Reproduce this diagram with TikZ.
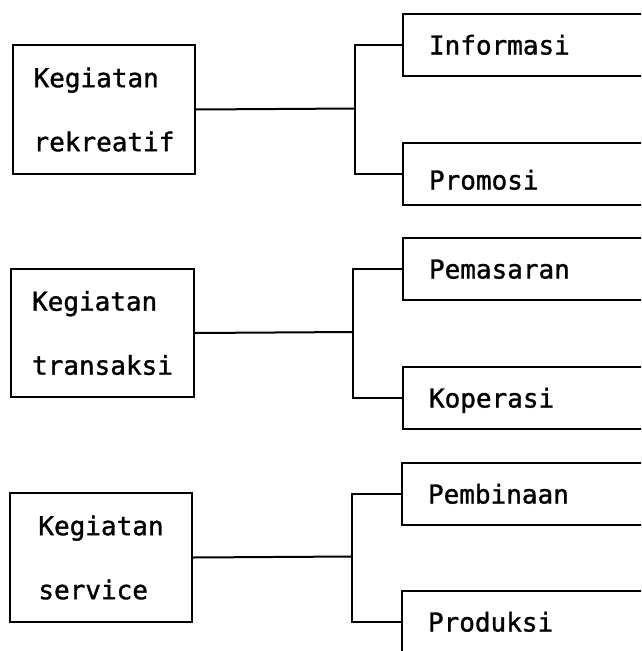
\documentclass[tikz,border=0pt]{standalone}
\usepackage{fontspec}
\setmonofont{DejaVu Sans Mono}[AutoFakeBold=1.2]
\begin{document}
\begin{tikzpicture}[x=1pt,y=-1pt,
  every node/.style={font=\ttfamily\bfseries\fontsize{26}{64}\selectfont},
  lbox/.style={draw, line width=2pt, anchor=north west, minimum width=182pt,
    minimum height=129pt, align=left, inner xsep=18pt, inner ysep=0pt},
  rbox/.style={draw, line width=2pt, anchor=north west, minimum height=62pt,
    text width=260pt, inner xsep=26pt, inner ysep=0pt, align=left,
    text height=19pt, text depth=0pt},
  link/.style={line width=2pt}]
\useasboundingbox (0,0) rectangle (641,651);
\clip (0,0) rectangle (641,651);
\fill[white] (0,0) rectangle (641,651);

% group 1
\node[lbox] (L1) at (12,44) {Kegiatan\\rekreatif};
\node[rbox] (R1) at (402,13) {Informasi};
\node[rbox, text height=31pt] (R2) at (402,142) {Promosi};
\coordinate (S1) at (355,108.5);
\draw[link] (L1.east) -- (S1);
\draw[link] (R1.west) -| (S1) |- (R2.west);

% group 2
\node[lbox, minimum width=183pt, minimum height=128pt] (L2) at (10,268) {Kegiatan\\transaksi};
\node[rbox] (R3) at (402,237) {Pemasaran};
\node[rbox] (R4) at (402,366) {Koperasi};
\coordinate (S2) at (353,332);
\draw[link] (L2.east) -- (S2);
\draw[link] (R3.west) -| (S2) |- (R4.west);

% group 3
\node[lbox] (L3) at (9,492) {Kegiatan\\service};
\node[rbox] (R5) at (401,462) {Pembinaan};
\node[rbox] (R6) at (401,590) {Produksi};
\coordinate (S3) at (352,556.5);
\draw[link] (L3.east) -- (S3);
\draw[link] (R5.west) -| (S3) |- (R6.west);
\end{tikzpicture}
\end{document}
